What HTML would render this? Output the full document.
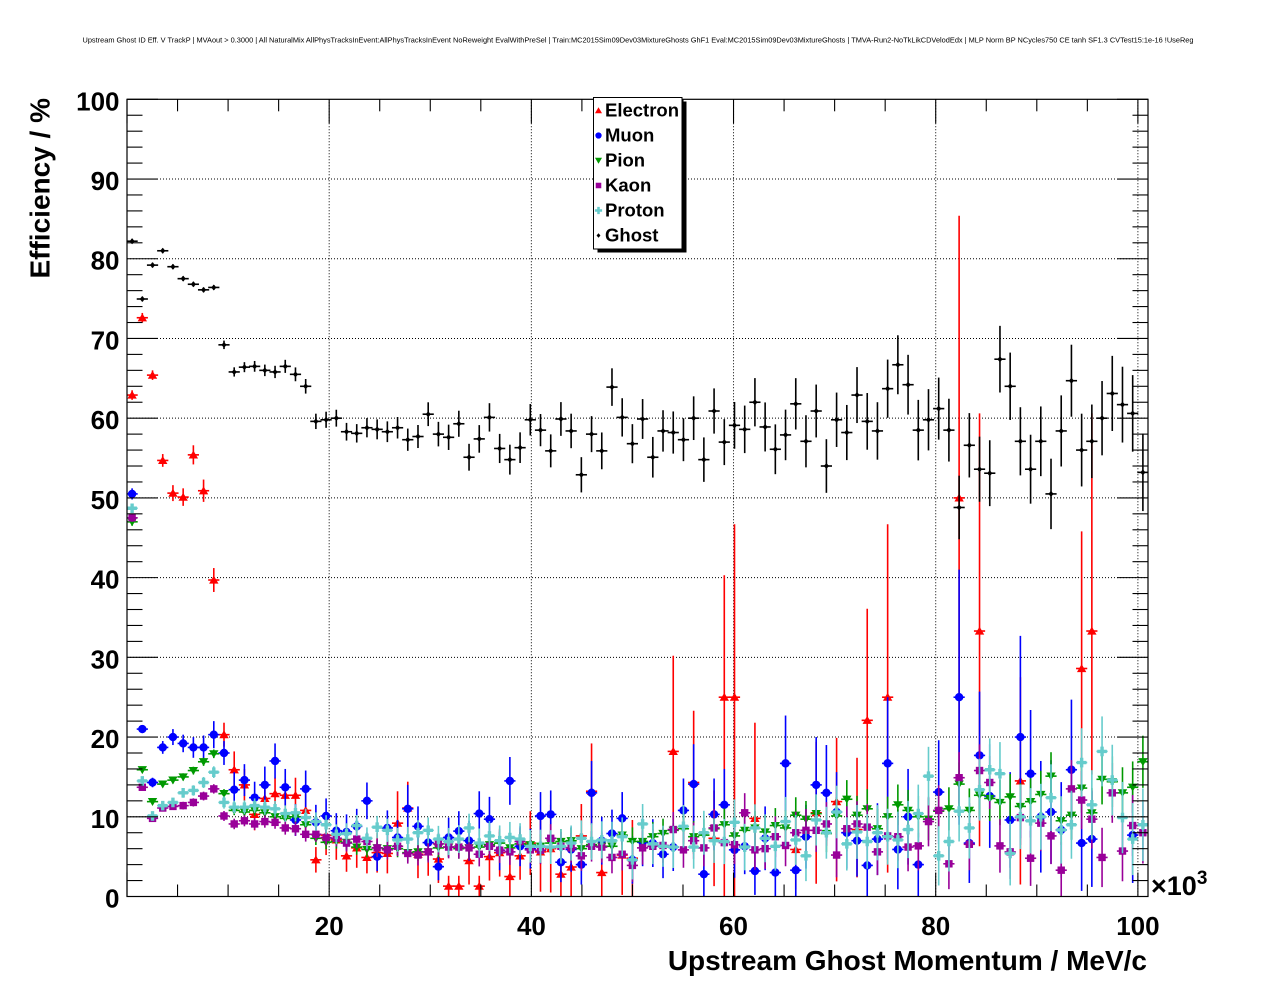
<!DOCTYPE html>
<html><head><meta charset="utf-8">
<style>
html,body{margin:0;padding:0;background:#fff;}
svg{display:block;}
text{font-family:"Liberation Sans",Arial,sans-serif;fill:#000;}
</style></head>
<body>
<svg id="c" width="1276" height="996" viewBox="0 0 1276 996" xmlns="http://www.w3.org/2000/svg">
<rect width="1276" height="996" fill="#fff"/>
<defs><clipPath id="fr"><rect x="127" y="99.3" width="1021" height="797.2"/></clipPath></defs>
<text x="638" y="42.5" font-size="7.2" text-anchor="middle" textLength="1111" lengthAdjust="spacingAndGlyphs">Upstream Ghost ID Eff. V TrackP | MVAout &gt; 0.3000 | All NaturalMix AllPhysTracksInEvent:AllPhysTracksInEvent NoReweight EvalWithPreSel | Train:MC2015Sim09Dev03MixtureGhosts GhF1 Eval:MC2015Sim09Dev03MixtureGhosts | TMVA-Run2-NoTkLikCDVelodEdx | MLP Norm BP NCycles750 CE tanh SF1.3 CVTest15:1e-16 !UseReg</text>
<g id="grid"></g>
<g id="data" clip-path="url(#fr)"></g>
<g id="axes"></g>
<g font-size="26" font-weight="bold" text-anchor="end">
<text x="119.5" y="907.5">0</text>
<text x="119.5" y="827.8">10</text>
<text x="119.5" y="748.1">20</text>
<text x="119.5" y="668.3">30</text>
<text x="119.5" y="588.6">40</text>
<text x="119.5" y="508.9">50</text>
<text x="119.5" y="429.2">60</text>
<text x="119.5" y="349.5">70</text>
<text x="119.5" y="269.7">80</text>
<text x="119.5" y="190.0">90</text>
<text x="119.5" y="110.3">100</text>
</g>
<g font-size="26" font-weight="bold" text-anchor="middle">
<text x="329.2" y="935">20</text>
<text x="531.4" y="935">40</text>
<text x="733.5" y="935">60</text>
<text x="935.7" y="935">80</text>
<text x="1137.9" y="935">100</text>
</g>
<text x="1151" y="895" font-size="27" font-weight="bold">×10<tspan font-size="19" dy="-11">3</tspan></text>
<text x="1147" y="970" font-size="28" font-weight="bold" text-anchor="end">Upstream Ghost Momentum / MeV/c</text>
<text transform="translate(49.5,98) rotate(-90)" font-size="28" font-weight="bold" text-anchor="end">Efficiency / %</text>
<g id="legend">
<rect x="597.5" y="101.5" width="89" height="151" fill="#000"/>
<rect x="593.5" y="97.5" width="88.5" height="151.5" fill="#fff" stroke="#000" stroke-width="1"/>
<g font-size="18.5" font-weight="bold">
<text x="605" y="116.5">Electron</text>
<text x="605" y="141.5">Muon</text>
<text x="605" y="166.5">Pion</text>
<text x="605" y="191.5">Kaon</text>
<text x="605" y="216.5">Proton</text>
<text x="605" y="241.5">Ghost</text>
</g>
<g id="legm"></g>
</g>
</svg>
<script>
(function(){
const X=k=>127+10.21*(k+0.5);
const XV=v=>127+v*1021/101;
const Y=v=>896.5-v*7.972;
const f=n=>n.toFixed(2);
let g='';
for(let v=20;v<=100;v+=20){const x=f(XV(v));g+=`<line x1="${x}" y1="99.3" x2="${x}" y2="896.5" stroke="#000" stroke-width="1" stroke-dasharray="1 2"/>`;}
for(let v=10;v<=90;v+=10){const y=f(Y(v));g+=`<line x1="127" y1="${y}" x2="1148" y2="${y}" stroke="#000" stroke-width="1" stroke-dasharray="1 2"/>`;}
document.getElementById('grid').innerHTML=g;
let a='<rect x="127" y="99.3" width="1021" height="797.2" fill="none" stroke="#000" stroke-width="1.2"/>';
for(let v=0;v<=100;v+=2){const y=f(Y(v));const L=(v%10==0)?31:15.5;
 a+=`<line x1="127" y1="${y}" x2="${127+L}" y2="${y}" stroke="#000" stroke-width="1.1"/>`;
 a+=`<line x1="1148" y1="${y}" x2="${1148-L}" y2="${y}" stroke="#000" stroke-width="1.1"/>`;}
for(let v=0;v<=100;v+=5){const x=f(XV(v));const L=(v%20==0)?24:12;
 a+=`<line x1="${x}" y1="896.5" x2="${x}" y2="${896.5-L}" stroke="#000" stroke-width="1.1"/>`;
 a+=`<line x1="${x}" y1="99.3" x2="${x}" y2="${99.3+L}" stroke="#000" stroke-width="1.1"/>`;}
document.getElementById('axes').innerHTML=a;

function mk(type,x,y,c,sc){
 sc=sc||1;
 switch(type){
 case 'tu': {const w=4.7*sc,hb=3.6*sc,ht=4.4*sc;return `<polygon points="${f(x-w)},${f(y+hb)} ${f(x+w)},${f(y+hb)} ${f(x)},${f(y-ht)}" fill="${c}"/>`;}
 case 'td': {const w=4.7*sc,hb=3.6*sc,ht=4.4*sc;return `<polygon points="${f(x-w)},${f(y-hb)} ${f(x+w)},${f(y-hb)} ${f(x)},${f(y+ht)}" fill="${c}"/>`;}
 case 'ci': return `<circle cx="${f(x)}" cy="${f(y)}" r="${f(4.2*sc)}" fill="${c}"/>`;
 case 'sq': {const h=3.7*sc;return `<rect x="${f(x-h)}" y="${f(y-h)}" width="${f(2*h)}" height="${f(2*h)}" fill="${c}"/>`;}
 case 'cr': {const h=4.8*sc,w=1.7*sc;return `<path d="M${f(x-w)},${f(y-h)}H${f(x+w)}V${f(y-w)}H${f(x+h)}V${f(y+w)}H${f(x+w)}V${f(y+h)}H${f(x-w)}V${f(y+w)}H${f(x-h)}V${f(y-w)}H${f(x-w)}Z" fill="${c}"/>`;}
 case 'gh': {const h=3.0*sc,w=2.6*sc;return `<polygon points="${f(x)},${f(y-h)} ${f(x+w)},${f(y)} ${f(x)},${f(y+h)} ${f(x-w)},${f(y)}" fill="${c}"/>`;}
 }
}
function series(pts,type,c){
 let s='';
 for(const p of pts){
  const k=p[0],v=p[1],up=p[2],dn=(p[3]===undefined?p[2]:p[3]);
  const x=X(k),y=Y(v);
  const y1=Y(Math.min(101,v+up)),y2=Y(Math.max(-1,v-dn));
  s+=`<line x1="${f(x)}" y1="${f(y1)}" x2="${f(x)}" y2="${f(y2)}" stroke="${c}" stroke-width="1.6"/>`;
  s+=`<line x1="${f(x-5.6)}" y1="${f(y)}" x2="${f(x+5.6)}" y2="${f(y)}" stroke="${c}" stroke-width="1.6"/>`;
 }
 for(const p of pts){s+=mk(type,X(p[0]),Y(p[1]),c);}
 return s;
}
const RED='#ff0000',BLUE='#0000ff',GREEN='#009900',PURP='#990099',CYAN='#66cccc',BLK='#000000';
const E={0:[62.9,0.6],1:[72.6,0.6],2:[65.4,0.6],3:[54.7,0.8],4:[50.6,1.0],5:[50.1,1.1],6:[55.4,1.2],7:[50.9,1.4],8:[39.7,1.5],9:[20.3,1.5],10:[15.9,2.3],11:[14.0,2.0],12:[10.3,2.0],13:[12.3,2.0],14:[12.9,2.0],15:[12.7,2.0],16:[12.7,2.2],17:[10.8,2.5],18:[4.6,1.6],19:[7.7,2.5],20:[7.1,2.5],21:[5.1,2.0],22:[6.1,2.5],23:[4.9,2.0],24:[5.5,2.5],25:[5.4,2.5],26:[9.2,4,4],27:[11.1,3.3],28:[5.3,3],29:[5.6,3],30:[4.7,3],31:[1.3,1.3],32:[1.3,1.3],33:[4.5,3],34:[1.3,1.3],35:[5.0,3],36:[5.5,3],37:[2.5,2.5],38:[5.1,3],39:[6.7,4],40:[5.6,5],41:[6.0,5.5],42:[2.8,2.8],43:[3.7,3.7],44:[7.6,4],45:[13.2,6],46:[3.0,3.0],48:[5.2,5],49:[4.8,4.8],53:[18.2,12,8.6],55:[14.3,9],57:[7.3,6],58:[25,15.3,25],59:[25,21.7,25],61:[9.8,12,4],65:[5.9,5],67:[10.5,8.9],69:[11.9,8,10],71:[8.4,9,6],72:[22.1,14,10],74:[25,21.7,22],81:[50,35.4,35],83:[33.3,27.3,27],87:[14.5,13],93:[28.6,17.2,17],94:[33.3,27.3,18]};
const Mu={0:[50.5,0.7],1:[21.0,0.5],2:[14.3,0.6],3:[18.7,0.8],4:[20.0,1.0],5:[19.2,1.1],6:[18.7,1.3],7:[18.7,1.5],8:[20.3,1.7],9:[18.0,1.5],10:[13.4,2.2],11:[14.6,2.0],12:[12.4,2.0],13:[14.0,2.3],14:[17.0,2.2],15:[13.7,2.3],16:[9.6,2.0],17:[13.5,2.3],18:[9.3,2.2],19:[10.1,2.2],20:[8.25,2.2],21:[8.1,2.2],22:[8.8,2.2],23:[12.0,2.3],24:[5.0,1.8],25:[8.6,2.2],26:[7.4,2.2],27:[11.0,3.0],28:[8.8,2.5],29:[6.76,2.2],30:[3.74,1.7],31:[7.4,2.5],32:[8.2,2.5],33:[7.0,2.5],34:[10.4,2.8],35:[9.7,2.8],36:[5.8,2.5],37:[14.5,3.0],38:[6.3,2.5],39:[6.0,2.5],40:[10.1,3.0],41:[10.3,3.0],42:[4.3,2.5],43:[5.9,2.8],44:[4.0,2.5],45:[13.0,4.0],46:[7.0,3.0],47:[7.9,3.0],48:[9.8,3.3],49:[4.6,3.0],50:[6.8,3.0],51:[6.7,3.0],52:[5.3,3.0],53:[6.2,3.0],54:[10.8,4.0],55:[14.1,5.0],56:[2.8,2.8],57:[10.3,4.5],58:[11.5,4.5],59:[5.85,3.5],60:[6.3,3.5],61:[3.2,3.0],62:[7.3,4.0],63:[3.0,3.0],64:[16.7,6.0],65:[3.3,3.3],66:[7.5,4.0],67:[14.0,6.0],68:[13.0,6.0],69:[10.6,5.0],70:[8.0,4.5],71:[7.0,4.5],72:[3.9,3.9],73:[7.2,4.5],74:[16.7,8.3],75:[5.9,5],76:[10.0,6],77:[4.0,4],79:[13.1,6.5],81:[25,16],82:[6.7,5],83:[17.7,8],84:[12.6,6.5],86:[9.6,6],87:[20,12.7],88:[15.4,8],89:[10.0,7],90:[10.6,6.5],91:[8.35,6],92:[15.9,8.8],93:[6.7,6],94:[7.2,6],98:[7.7,6]};
const G=[47.0,15.9,11.9,14.1,14.6,15.0,15.8,16.9,17.9,12.9,10.8,10.6,10.8,10.5,10.0,9.8,10.0,9.0,7.3,6.8,6.9,6.8,6.2,5.9,6.1,6.0,6.0,5.5,5.6,5.6,6.1,6.2,6.0,6.1,6.2,6.5,6.7,6.1,6.6,6.5,6.3,6.7,6.9,7.0,6.0,6.5,6.3,6.3,7.7,6.9,6.9,7.5,7.9,8.3,8.5,7.5,7.7,8.5,9.0,7.6,8.3,8.6,8.1,8.9,8.6,10.2,9.7,10.4,7.9,10.1,12.2,10.2,11.0,8.5,10.0,11.5,10.8,10.0,9.7,10.7,11.0,14.1,10.8,12.7,12.3,11.8,12.5,11.3,11.9,12.8,15.1,9.5,10.2,13.6,10.5,14.7,14.4,13.0,13.7,16.9];
const P=[47.5,13.7,9.8,11.1,11.3,11.4,11.8,12.6,13.5,10.1,9.1,9.5,9.1,9.4,9.3,8.6,8.5,7.8,7.8,7.4,7.3,6.7,7.2,6.9,6.1,5.85,6.3,5.4,5.2,5.6,6.6,6.2,6.2,6.1,5.3,6.3,5.8,5.6,6.9,5.85,5.8,7.3,6.3,6.1,5.1,6.3,6.2,4.9,5.3,3.9,6.1,6.3,6.4,8.4,5.85,7.0,6.1,8.6,6.76,6.5,10.5,5.85,6.0,7.5,6.4,8.0,8.3,8.3,9.1,5.2,8.5,9.1,8.7,5.6,7.6,7.5,6.2,6.35,9.4,10.8,4.1,14.9,6.55,15.8,14.3,6.35,5.6,9.9,4.8,9.2,7.6,3.3,13.5,12.1,9.7,4.9,13.0,5.7,8.9,8.0];
const C=[48.7,14.5,10.1,11.4,11.8,13.0,13.3,14.3,15.6,11.8,11.2,11.2,11.4,11.2,11.0,10.4,10.5,9.9,9.4,9.0,7.8,7.9,8.9,7.3,8.7,8.3,7.1,7.2,8.0,8.3,7.2,6.9,7.2,8.6,6.7,7.6,7.0,7.4,7.2,6.3,6.3,6.2,6.3,6.7,7.3,6.9,7.1,7.0,7.5,4.6,9.1,6.6,6.3,6.2,8.8,6.2,8.0,7.0,6.9,9.3,6.2,8.6,7.3,6.3,9.4,7.1,5.1,9.6,8.0,10.6,6.6,8.1,6.9,8.0,7.5,7.1,8.4,10.4,15.1,5.1,6.9,10.7,8.6,13.4,15.9,15.4,5.4,10.0,9.5,10.0,12.4,8.35,9.0,16.8,11.5,18.2,14.6,9.9,7.2,9.0];
const GH=[82.2,74.95,79.2,81.0,79.0,77.5,76.8,76.1,76.4,69.2,65.8,66.4,66.5,66.0,65.8,66.5,65.5,64.0,59.6,59.8,60.0,58.3,58.1,58.8,58.6,58.3,58.8,57.3,57.7,60.5,58.0,57.6,59.3,55.1,57.4,60.1,56.2,54.8,56.3,59.8,58.5,55.9,59.9,58.4,52.9,58.0,55.9,63.9,60.1,56.8,59.9,55.1,58.4,58.2,57.3,60.0,54.8,60.9,57.0,59.1,58.6,62.0,58.9,56.1,57.9,61.8,57.1,60.9,54.0,59.8,58.2,62.9,59.6,58.4,63.7,66.7,64.2,58.5,59.8,61.2,58.5,48.8,56.6,53.6,53.1,67.4,64.0,57.1,53.6,57.1,50.5,58.4,64.7,56.0,57.1,60.0,63.1,61.7,60.6,53.2];
const obj2pts=o=>Object.keys(o).map(k=>[+k].concat(o[k]));
const arr2pts=(a,e0,e1)=>a.map((v,k)=>[k,v,(k==0?0.5:e0+e1*k)]);
let d='';
d+=series(obj2pts(E),'tu',RED);
d+=series(obj2pts(Mu),'ci',BLUE);
d+=series(arr2pts(G,0.3,0.03),'td',GREEN);
d+=series(arr2pts(P,0.3,0.036),'sq',PURP);
d+=series(arr2pts(C,0.4,0.042),'cr',CYAN);
d+=series(GH.map((v,k)=>[k,v,(k<9?0.3:0.1+0.048*k)]),'gh',BLK);
document.getElementById('data').innerHTML=d;
let l='';
l+=mk('tu',598.5,110.5,RED,0.75);
l+=mk('ci',598.5,135.5,BLUE,0.75);
l+=mk('td',598.5,160.5,GREEN,0.75);
l+=mk('sq',598.5,185.5,PURP,0.75);
l+=mk('cr',598.5,210.5,CYAN,0.75);
l+=mk('gh',598.5,235.5,BLK,0.75);
document.getElementById('legm').innerHTML=l;
})();
</script>
</body></html>
